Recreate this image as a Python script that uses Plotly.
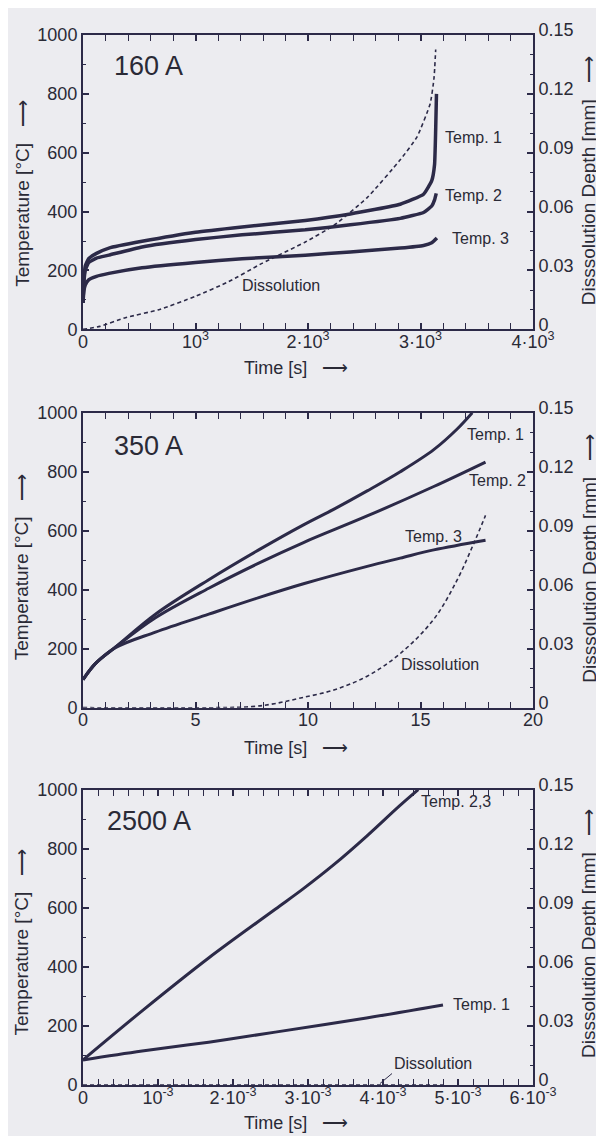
import plotly.graph_objects as go

# ---------------- data ----------------
# Panel 1: 160 A  (time in s, temperature in degC, dissolution in mm)
p1_t1_time = [0, 8, 20, 50, 120, 230, 525, 1000, 1414, 1976, 2376, 2820, 3027, 3100, 3125, 3135, 3142]
p1_t1_temp = [90, 170, 215, 240, 258, 276, 299, 330, 348, 370, 392, 425, 459, 505, 560, 680, 800]
p1_t2_time = [0, 8, 20, 50, 120, 230, 525, 1000, 1414, 1976, 2376, 2820, 3027, 3100, 3125, 3140]
p1_t2_temp = [90, 160, 200, 227, 242, 252, 280, 305, 321, 338, 355, 377, 397, 419, 440, 462]
p1_t3_time = [0, 8, 20, 50, 120, 230, 525, 1000, 1414, 1976, 2376, 2820, 3027, 3100, 3146]
p1_t3_temp = [90, 130, 150, 168, 180, 190, 209, 227, 240, 252, 263, 276, 285, 294, 310]
p1_d_time = [0, 150, 377, 673, 1000, 1295, 1591, 1976, 2228, 2524, 2820, 2968, 3086, 3120, 3135]
p1_d_depth = [0, 0.0015, 0.0059, 0.010, 0.0168, 0.0243, 0.0336, 0.0445, 0.0529, 0.067,
              0.0864, 0.098, 0.115, 0.128, 0.1426]

# Panel 2: 350 A
p2_t1_time = [0, 0.56, 1.44, 3.22, 5.59, 7.81, 9.8, 11.2, 12.63, 14.1, 15.59, 16.63, 17.3]
p2_t1_temp = [95, 150, 205, 317, 434, 535, 620, 675, 735, 800, 875, 945, 1000]
p2_t2_time = [0, 0.56, 1.44, 3.22, 5.59, 7.81, 9.8, 12.63, 15.59, 17.89]
p2_t2_temp = [95, 150, 205, 305, 405, 490, 560, 650, 750, 833]
p2_t3_time = [0, 0.56, 1.44, 3.22, 5.59, 7.81, 9.8, 12.63, 14.1, 15.59, 17.89]
p2_t3_temp = [95, 150, 203, 256, 317, 373, 420, 479, 507, 535, 568]
p2_d_time = [0, 6, 7.5, 8.5, 9.67, 11.15, 12.63, 14.1, 15.59, 16.63, 17.37, 17.89]
p2_d_depth = [0, 0, 0.0005, 0.002, 0.0049, 0.009, 0.016, 0.0275, 0.045, 0.065, 0.0836, 0.0978]

# Panel 3: 2500 A
p3_t23_time = [0, 0.788e-3, 1.675e-3, 2.563e-3, 2.93e-3, 3.34e-3, 3.78e-3, 4.22e-3, 4.47e-3]
p3_t23_temp = [85, 251, 430, 595, 663, 745, 842, 945, 1000]
p3_t1_time = [0, 0.788e-3, 1.675e-3, 2.563e-3, 3.78e-3, 4.80e-3]
p3_t1_temp = [85, 115, 145, 179, 227, 271]
p3_d_time = [0, 4.8e-3]
p3_d_depth = [0, 0]

# tick labels
p1_xticks = [0, 1000, 2000, 3000, 4000]
p1_xtext = ["0", "10<sup>3</sup>", "2·10<sup>3</sup>", "3·10<sup>3</sup>", "4·10<sup>3</sup>"]
p2_xticks = [0, 5, 10, 15, 20]
p2_xtext = ["0", "5", "10", "15", "20"]
p3_xticks = [0, 1e-3, 2e-3, 3e-3, 4e-3, 5e-3, 6e-3]
p3_xtext = ["0", "10<sup>-3</sup>", "2·10<sup>-3</sup>", "3·10<sup>-3</sup>",
            "4·10<sup>-3</sup>", "5·10<sup>-3</sup>", "6·10<sup>-3</sup>"]
temp_ticks = [0, 200, 400, 600, 800, 1000]
temp_text = ["0", "200", "400", "600", "800", "1000"]
depth_ticks = [0, 0.03, 0.06, 0.09, 0.12, 0.15]
depth_text = ["0", "0.03", "0.06", "0.09", "0.12", "0.15"]

panel_titles = ["160 A", "350 A", "2500 A"]

# ---------------- styling ----------------
BG = "#ececf0"
LINE = "#2c2a48"
TXT = "#2a2a36"
FONT = "Liberation Sans, Arial, sans-serif"

fig = go.Figure()

def temp_line(x, y, xa, ya, w=3.2, smooth=0.4):
    fig.add_trace(go.Scatter(x=x, y=y, mode="lines", xaxis=xa, yaxis=ya,
                             line=dict(color=LINE, width=w, shape="spline", smoothing=smooth),
                             showlegend=False, hoverinfo="skip"))

def diss_line(x, y, xa, ya, smooth=0.5):
    fig.add_trace(go.Scatter(x=x, y=y, mode="lines", xaxis=xa, yaxis=ya,
                             line=dict(color=LINE, width=1.6, dash="4px,3px", shape="spline", smoothing=smooth),
                             showlegend=False, hoverinfo="skip"))

# panel 1
temp_line(p1_t1_time, p1_t1_temp, "x", "y", 3.5)
temp_line(p1_t2_time, p1_t2_temp, "x", "y", 3.5)
temp_line(p1_t3_time, p1_t3_temp, "x", "y", 3.5)
diss_line(p1_d_time, p1_d_depth, "x", "y2")
# panel 2
temp_line(p2_t1_time, p2_t1_temp, "x2", "y3", 3, 1.0)
temp_line(p2_t2_time, p2_t2_temp, "x2", "y3", 3, 1.0)
temp_line(p2_t3_time, p2_t3_temp, "x2", "y3", 3, 1.0)
diss_line(p2_d_time, p2_d_depth, "x2", "y4", 1.0)
# panel 3
temp_line(p3_t23_time, p3_t23_temp, "x3", "y5", 3, 1.0)
temp_line(p3_t1_time, p3_t1_temp, "x3", "y5", 3, 1.0)
diss_line(p3_d_time, p3_d_depth, "x3", "y6")

doms = [[0.7197, 1.0], [0.3594, 0.6402], [0.0, 0.2813]]
xranges = [[0, 4000], [0, 20], [0, 6e-3]]
xtickvals = [p1_xticks, p2_xticks, p3_xticks]
xticktexts = [p1_xtext, p2_xtext, p3_xtext]
xminor = [200, 1, 0.2e-3]

tickfont = dict(family=FONT, size=18, color=TXT)
# the page body adds an 8px offset, so the figure is 8px smaller and margins compensate
layout = dict(
    width=596, height=1128,
    margin=dict(l=75, r=71, t=14, b=51),
    paper_bgcolor=BG, plot_bgcolor=BG,
    font=dict(family=FONT, color=TXT),
    showlegend=False,
)

for i in range(3):
    xs = "xaxis" if i == 0 else f"xaxis{i+1}"
    yl = "yaxis" if i == 0 else f"yaxis{2*i+1}"
    yr = f"yaxis{2*i+2}"
    xname = "x" if i == 0 else f"x{i+1}"
    ylname = "y" if i == 0 else f"y{2*i+1}"
    layout[xs] = dict(domain=[0, 1], anchor=ylname, range=xranges[i],
                      tickvals=xtickvals[i], ticktext=xticktexts[i],
                      showline=True, linecolor=LINE, linewidth=2, mirror="allticks",
                      ticks="inside", ticklen=6, tickwidth=1.5, tickcolor=LINE,
                      ticklabelstandoff=-5,
                      minor=dict(ticks="inside", ticklen=3, tickwidth=1, tickcolor=LINE, dtick=xminor[i]),
                      showgrid=False, zeroline=False, tickfont=tickfont)
    layout[yl] = dict(domain=doms[i], anchor=xname, range=[0, 1000],
                      tickvals=temp_ticks, ticktext=temp_text,
                      showline=True, linecolor=LINE, linewidth=2,
                      ticks="inside", ticklen=6, tickwidth=1.5, tickcolor=LINE,
                      minor=dict(ticks="inside", ticklen=3, tickwidth=1, tickcolor=LINE, dtick=100),
                      showgrid=False, zeroline=False, tickfont=tickfont)
    layout[yr] = dict(overlaying=ylname, anchor=xname, side="right", range=[0, 0.15],
                      tickvals=depth_ticks, ticktext=depth_text,
                      showline=True, linecolor=LINE, linewidth=2,
                      ticks="inside", ticklen=6, tickwidth=1.5, tickcolor=LINE,
                      ticklabelshift=-5,
                      minor=dict(ticks="inside", ticklen=3, tickwidth=1, tickcolor=LINE, dtick=0.01),
                      showgrid=False, zeroline=False, tickfont=tickfont)

fig.update_layout(**layout)

ann = []
def label(text, x, y, xr, yr, size=16):
    ann.append(dict(text=text, x=x, y=y, xref=xr, yref=yr, showarrow=False,
                    xanchor="center", yanchor="middle",
                    font=dict(family=FONT, size=size, color=TXT)))

# panel titles
label(panel_titles[0], 582, 895, "x", "y", 27)
label(panel_titles[1], 2.91, 889, "x2", "y3", 27)
label(panel_titles[2], 0.874e-3, 893, "x3", "y5", 27)

# curve labels
label("Temp. 1", 3467, 651, "x", "y")
label("Temp. 2", 3470, 453, "x", "y")
label("Temp. 3", 3530, 308, "x", "y")
label("Dissolution", 1763, 148, "x", "y")

label("Temp. 1", 18.33, 928, "x2", "y3")
label("Temp. 2", 18.4, 771, "x2", "y3")
label("Temp. 3", 15.59, 580, "x2", "y3")
label("Dissolution", 15.86, 146, "x2", "y3")

label("Temp. 2,3", 4.97e-3, 960, "x3", "y5")
label("Temp. 1", 5.31e-3, 271, "x3", "y5")
ann.append(dict(text="Dissolution", x=3.96e-3, y=5, xref="x3", yref="y5",
                showarrow=True, arrowhead=0, arrowwidth=1, arrowcolor=LINE,
                ax=12, ay=-10, xanchor="left", yanchor="bottom",
                font=dict(family=FONT, size=16, color=TXT)))

# axis titles
arrow = "⟶"
ycent_left = [0.8495, 0.4939, 0.1364]
ycent_right = [0.861, 0.5014, 0.144]
xtitle_y = [0.683, 0.3209, -0.0360]
for i in range(3):
    ann.append(dict(text="Temperature [°C]   " + arrow, x=-0.136, y=ycent_left[i],
                    xref="paper", yref="paper", showarrow=False, textangle=-90,
                    xanchor="center", yanchor="middle",
                    font=dict(family=FONT, size=19, color=TXT)))
    ann.append(dict(text="Disssolution Depth [mm]   " + arrow, x=1.125, y=ycent_right[i],
                    xref="paper", yref="paper", showarrow=False, textangle=-90,
                    xanchor="center", yanchor="middle",
                    font=dict(family=FONT, size=19, color=TXT)))
    ann.append(dict(text="Time [s]   " + arrow, x=0.473, y=xtitle_y[i],
                    xref="paper", yref="paper", showarrow=False,
                    xanchor="center", yanchor="middle",
                    font=dict(family=FONT, size=18, color=TXT)))

fig.update_layout(annotations=ann)
fig.write_html("out.html")
